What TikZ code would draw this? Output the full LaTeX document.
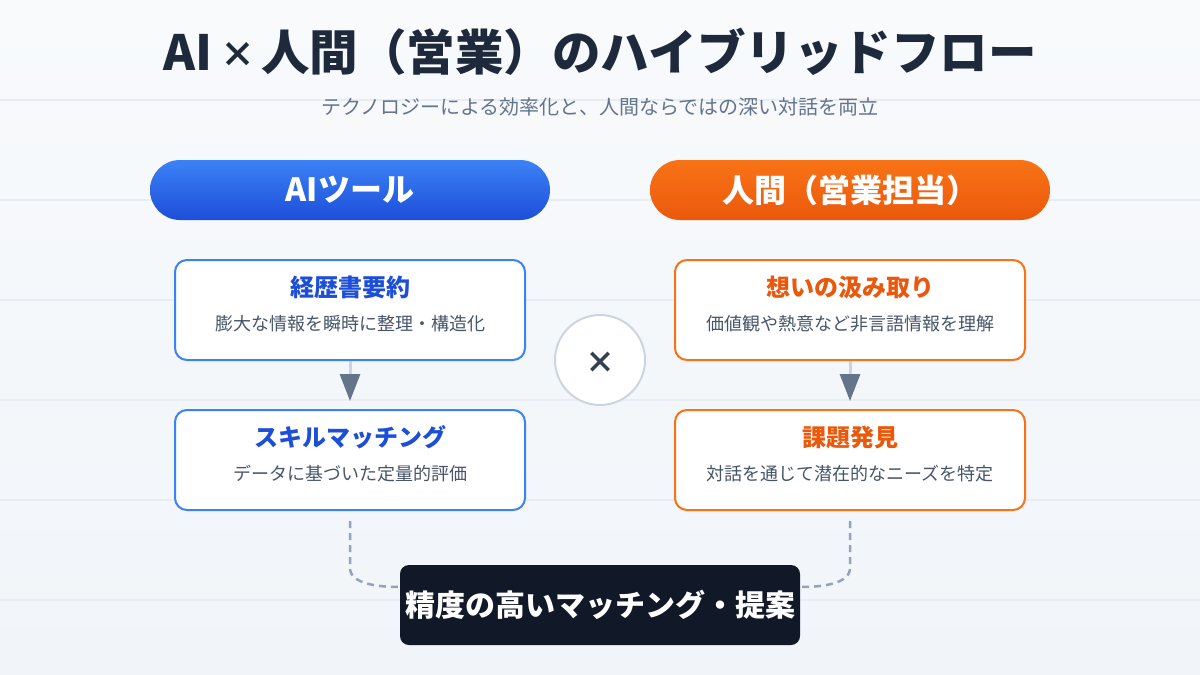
\documentclass[tikz,border=0pt]{standalone}
\usepackage{fontspec}
\setmainfont{Noto Sans CJK JP}
\usetikzlibrary{arrows.meta,calc,shadings}
\definecolor{bgA}{HTML}{F8FAFC}
\definecolor{bgB}{HTML}{F1F5F9}
\definecolor{gridc}{HTML}{E8EDF3}
\definecolor{titlec}{HTML}{1E293B}
\definecolor{subc}{HTML}{64748B}
\definecolor{descc}{HTML}{475569}
\definecolor{blueA}{HTML}{3B82F6}
\definecolor{blueB}{HTML}{1D4ED8}
\definecolor{orA}{HTML}{F97316}
\definecolor{orB}{HTML}{EA580C}
\definecolor{shaftc}{HTML}{CBD5E1}
\definecolor{arrowc}{HTML}{64748B}
\definecolor{dashc}{HTML}{94A3B8}
\definecolor{darkbox}{HTML}{111827}
\definecolor{timesc}{HTML}{334155}
\tikzset{
  pill/.style={minimum width=400pt, minimum height=60pt, rounded corners=30pt, inner sep=0pt,
    text=white, font=\fontsize{32}{32}\selectfont\bfseries},
  bluepill/.style={pill, top color=blueA, bottom color=blueB},
  orpill/.style={pill, top color=orA, bottom color=orB},
  card/.style={draw, line width=2pt, fill=white, rounded corners=12pt, minimum width=350pt, minimum height=100pt, inner sep=0pt},
  bluecard/.style={card, draw=blueA},
  orcard/.style={card, draw=orA},
  cardtitle/.style={inner sep=0pt, font=\fontsize{24}{24}\selectfont\bfseries},
  carddesc/.style={inner sep=0pt, text=descc, font=\fontsize{18}{18}\selectfont},
  flowarrow/.style={line width=3pt, draw=shaftc, shorten >=8pt,
    -{Triangle[width=20pt,length=27pt,color=arrowc]}},
  merge/.style={draw=dashc, line width=2.5pt, dash pattern=on 7pt off 5pt},
}
\begin{document}
\begin{tikzpicture}[x=1pt,y=-1pt]
\useasboundingbox (0,0) rectangle (1200,675);
\shade[upper left=bgA, lower right=bgB, upper right=bgA, lower left=bgB] (0,0) rectangle (1200,675);
\foreach \yy in {100,200,300,400,500,600}
  \draw[gridc, line width=1.5pt] (0,\yy) -- (1200,\yy);

\node[inner sep=0pt, text=titlec, font=\fontsize{48.5}{48.5}\selectfont\bfseries] (title) at (600,52)
  {AI\hspace{8pt}\raisebox{3pt}{\fontsize{35}{35}\selectfont ×}\hspace{6pt}人間（営業）のハイブリッドフロー};
\node[inner sep=0pt, text=subc, font=\fontsize{20}{20}\selectfont] (sub) at (600,107) {テクノロジーによる効率化と、人間ならではの深い対話を両立};

\node[bluepill] (ai) at (350,190) {AIツール};
\node[orpill] (hu) at (850,190) {人間（営業担当）};

\node[bluecard] (a1) at (350,310) {};
\node[bluecard] (a2) at (350,460) {};
\node[orcard] (h1) at (850,310) {};
\node[orcard] (h2) at (850,460) {};

\node[cardtitle, text=blueB] (a1t) at ($(a1)+(0,-23)$) {経歴書要約};
\node[carddesc] (a1d) at ($(a1)+(0,14)$) {膨大な情報を瞬時に整理・構造化};
\node[cardtitle, text=blueB] (a2t) at ($(a2)+(0,-23)$) {スキルマッチング};
\node[carddesc] (a2d) at ($(a2)+(0,14)$) {データに基づいた定量的評価};
\node[cardtitle, text=orB] (h1t) at ($(h1)+(0,-23)$) {想いの汲み取り};
\node[carddesc] (h1d) at ($(h1)+(0,14)$) {価値観や熱意など非言語情報を理解};
\node[cardtitle, text=orB] (h2t) at ($(h2)+(0,-23)$) {課題発見};
\node[carddesc] (h2d) at ($(h2)+(0,14)$) {対話を通じて潜在的なニーズを特定};

\draw[flowarrow] (a1.south) -- (a2.north);
\draw[flowarrow] (h1.south) -- (h2.north);

\node[circle, draw=shaftc, line width=2pt, fill=white, minimum size=90pt, inner sep=0pt] (x) at (600,360) {};
\node[inner sep=0pt, text=timesc, font=\fontsize{30}{30}\selectfont\bfseries] (xt) at ($(x)+(0,3)$) {×};

\coordinate (lend) at (400,587);
\coordinate (rend) at (800,587);
\draw[merge] ($(a2.south)+(0,10)$) -- ++(0,47) .. controls ++(0,15) and (375,587) .. (lend);
\draw[merge] ($(h2.south)+(0,10)$) -- ++(0,47) .. controls ++(0,15) and (825,587) .. (rend);

\node[fill=darkbox, rounded corners=9pt, minimum width=400pt, minimum height=80pt, inner sep=0pt,
  text=white, font=\fontsize{30}{30}\selectfont\bfseries] (res) at (600,605) {精度の高いマッチング・提案};
\end{tikzpicture}
\end{document}
